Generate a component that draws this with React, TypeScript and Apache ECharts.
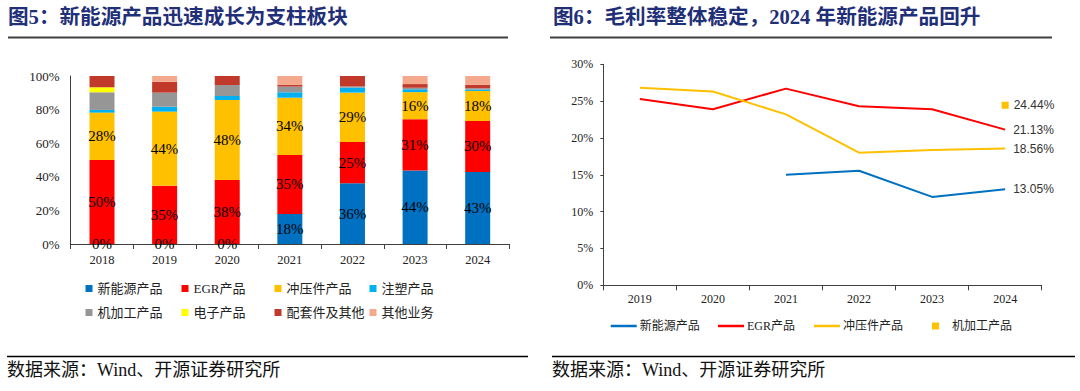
import React, { useEffect, useRef } from "react";
import * as echarts from "echarts";

// ---- Left chart data (revenue mix, %) ----
const yearsLeft = ["2018", "2019", "2020", "2021", "2022", "2023", "2024"];
const newEnergy = [0, 0, 0, 17.9, 36.1, 43.7, 42.9];
const egr = [50.0, 34.7, 38.1, 35.1, 24.6, 30.6, 30.3];
const stamping = [28.2, 44.1, 47.6, 34.1, 29.4, 16.1, 17.9];
const injection = [1.6, 2.9, 2.4, 3.2, 3.0, 1.7, 0.9];
const machining = [10.5, 8.4, 6.5, 3.4, 0.7, 0.9, 0.7];
const electronic = [3.0, 0, 0, 0, 0, 0, 0];
const accessories = [6.7, 6.5, 5.4, 1.0, 6.2, 2.2, 2.0];
const otherBiz = [0, 3.4, 0, 5.3, 0, 4.8, 5.3];

// ---- Right chart data (gross margin, %) ----
const yearsRight = ["2019", "2020", "2021", "2022", "2023", "2024"];
const gmNewEnergy = [null, null, 15.0, 15.55, 12.0, 13.05];
const gmEgr = [25.3, 23.9, 26.7, 24.3, 23.9, 21.13];
const gmStamping = [26.8, 26.3, 23.2, 18.0, 18.36, 18.56];
const gmMachining = [null, null, null, null, null, 24.44];

const leftNames = ["新能源产品", "EGR产品", "冲压件产品", "注塑产品", "机加工产品", "电子产品", "配套件及其他", "其他业务"];
const leftColors = ["#0070C0", "#FF0000", "#FFC000", "#00B0F0", "#969696", "#FFFF00", "#C0392B", "#F4A98C"];
const rightNames = ["新能源产品", "EGR产品", "冲压件产品", "机加工产品"];
const rightColors = ["#0070C0", "#FF0000", "#FFC000", "#FFC000"];

const SERIF = '"Liberation Serif", "Noto Sans CJK SC", serif';
const SANS = '"Liberation Sans", "Noto Sans CJK SC", sans-serif';

export default function App() {
  const ref = useRef<HTMLDivElement>(null);
  useEffect(() => {
    if (!ref.current) return;
    const chart = echarts.init(ref.current, undefined, { renderer: "svg" });
    const leftData = [newEnergy, egr, stamping, injection, machining, electronic, accessories, otherBiz];

    const barSeries = leftData.map((d, i) => ({
      name: leftNames[i],
      type: "bar",
      stack: "mix",
      xAxisIndex: 0,
      yAxisIndex: 0,
      barWidth: 25,
      data: d,
      itemStyle: { color: leftColors[i] },
      label: {
        show: i < 3,
        position: "inside",
        formatter: (p: any) => Math.round(p.value) + "%",
        fontFamily: SERIF,
        fontSize: 15,
        color: "#000",
      },
    }));

    const endLabel = {
      show: true,
      distance: 8,
      formatter: (p: any) => Number(p.value).toFixed(2) + "%",
      fontFamily: SANS,
      fontSize: 12,
      color: "#333",
    };

    const leftLegendPos = [
      [85.5, 282], [181.5, 282], [274.5, 282], [369.5, 282],
      [85.5, 306], [181.5, 306], [274.5, 306], [369.5, 306],
    ];
    const leftLegends = leftNames.map((n, i) => ({
      data: [{ name: n, itemStyle: { color: leftColors[i] } }],
      left: leftLegendPos[i][0],
      top: leftLegendPos[i][1],
      padding: 0,
      icon: "rect",
      itemWidth: 7,
      itemHeight: 7,
      itemGap: 4,
      textStyle: { fontFamily: SERIF, fontSize: 13, color: "#222" },
    }));
    const rightLegendPos = [610.7, 718, 814, 932];
    const rightLegends = rightNames.map((n, i) => ({
      data: [{ name: n, itemStyle: { color: rightColors[i] } }],
      left: rightLegendPos[i],
      top: 320,
      padding: 0,
      icon: "rect",
      itemWidth: i < 3 ? 26 : 7,
      itemHeight: i < 3 ? 2.5 : 7,
      textStyle: {
        fontFamily: SERIF,
        fontSize: 12,
        color: "#222",
        padding: i < 3 ? [0, 0, 0, -2] : [0, 0, 0, 8],
      },
    }));

    chart.setOption({
      animation: false,
      legend: [...leftLegends, ...rightLegends],
      grid: [
        { left: 70.7, top: 76, width: 438.3, height: 168 },
        { left: 603.3, top: 64.3, width: 438.4, height: 221 },
      ],
      xAxis: [
        {
          gridIndex: 0,
          type: "category",
          data: yearsLeft,
          axisLine: { lineStyle: { color: "#404040", width: 1 } },
          axisTick: { show: true, length: 5, lineStyle: { color: "#404040" } },
          axisLabel: { fontFamily: SERIF, fontSize: 12.5, color: "#222", margin: 10 },
        },
        {
          gridIndex: 1,
          type: "category",
          data: yearsRight,
          axisLine: { lineStyle: { color: "#404040", width: 1 } },
          axisTick: { show: true, length: 5, lineStyle: { color: "#404040" } },
          axisLabel: { fontFamily: SERIF, fontSize: 12, color: "#222", margin: 8 },
        },
      ],
      yAxis: [
        {
          gridIndex: 0,
          type: "value",
          min: 0,
          max: 100,
          interval: 20,
          splitLine: { show: false },
          axisLine: { show: true, lineStyle: { color: "#404040", width: 1 } },
          axisTick: { show: false },
          axisLabel: { formatter: "{value}%", fontFamily: SERIF, fontSize: 13, color: "#222", margin: 11 },
        },
        {
          gridIndex: 1,
          type: "value",
          min: 0,
          max: 30,
          interval: 5,
          splitLine: { show: false },
          axisLine: { show: true, lineStyle: { color: "#404040", width: 1 } },
          axisTick: { show: true, length: 3, lineStyle: { color: "#404040" } },
          axisLabel: { formatter: "{value}%", fontFamily: SERIF, fontSize: 12, color: "#222", margin: 10 },
        },
      ],
      series: [
        ...barSeries,
        {
          name: rightNames[0], type: "line", xAxisIndex: 1, yAxisIndex: 1,
          data: gmNewEnergy, symbol: "none", connectNulls: false, endLabel,
          lineStyle: { color: rightColors[0], width: 2 }, itemStyle: { color: rightColors[0] },
        },
        {
          name: rightNames[1], type: "line", xAxisIndex: 1, yAxisIndex: 1,
          data: gmEgr, symbol: "none", endLabel,
          lineStyle: { color: rightColors[1], width: 2 }, itemStyle: { color: rightColors[1] },
        },
        {
          name: rightNames[2], type: "line", xAxisIndex: 1, yAxisIndex: 1,
          data: gmStamping, symbol: "none", endLabel,
          lineStyle: { color: rightColors[2], width: 2 }, itemStyle: { color: rightColors[2] },
        },
        {
          name: rightNames[3], type: "scatter", xAxisIndex: 1, yAxisIndex: 1,
          data: gmMachining, symbol: "rect", symbolSize: 7,
          itemStyle: { color: rightColors[3], opacity: 1 },
          label: { ...endLabel, position: "right", distance: 5 },
        },
      ],
      graphic: [
        { type: "text", left: 8, top: 7, style: { text: "图5：新能源产品迅速成长为支柱板块", font: `bold 20.6px ${SERIF}`, fill: "#1F2F78" } },
        { type: "text", left: 553, top: 7, style: { text: "图6：毛利率整体稳定，2024 年新能源产品回升", font: `bold 20.6px ${SERIF}`, fill: "#1F2F78" } },
        { type: "line", shape: { x1: 8, y1: 37.5, x2: 508, y2: 37.5 }, style: { stroke: "#404040", lineWidth: 2 } },
        { type: "line", shape: { x1: 550, y1: 37.5, x2: 1052, y2: 37.5 }, style: { stroke: "#404040", lineWidth: 2 } },
        { type: "line", shape: { x1: 7, y1: 356.5, x2: 528, y2: 356.5 }, style: { stroke: "#000", lineWidth: 1.5 } },
        { type: "line", shape: { x1: 552, y1: 356.5, x2: 1075, y2: 356.5 }, style: { stroke: "#000", lineWidth: 1.5 } },
        { type: "text", left: 7, top: 361, style: { text: "数据来源：Wind、开源证券研究所", font: `18px ${SERIF}`, fill: "#111" } },
        { type: "text", left: 552, top: 361, style: { text: "数据来源：Wind、开源证券研究所", font: `18px ${SERIF}`, fill: "#111" } },
      ],
    });
    return () => chart.dispose();
  }, []);
  return <div ref={ref} style={{ position: "absolute", left: 0, top: 0, width: 1080, height: 391 }} />;
}
